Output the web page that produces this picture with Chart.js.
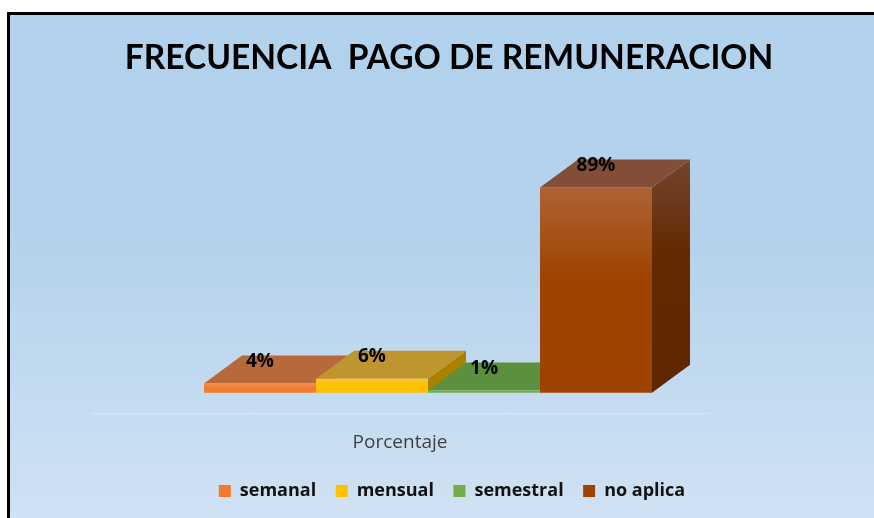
<!DOCTYPE html>
<html>
<head>
<meta charset="utf-8">
<script src="https://cdn.jsdelivr.net/npm/chart.js@4"></script>
<style>
    html, body { margin: 0; padding: 0; background: #fff; overflow: hidden; }
    #frame {
        position: absolute; left: 7px; top: 12px; width: 867px; height: 506px;
        box-sizing: border-box;
        border-left: 3px solid #000; border-top: 3px solid #000;
        background: linear-gradient(#b2d1ec 0%, #b4d2ec 45%, #d0e2f3 100%);
    }
    #chart { position: absolute; left: 0; top: 0; }
</style>
</head>
<body>
<div id="frame"></div>
<canvas id="chart" width="874" height="518"></canvas>
<script>
const categories = ["Porcentaje"];
const seriesNames = ["semanal", "mensual", "semestral", "no aplica"];
const seriesValues = [4, 6, 1, 89];
const frontColors = ["#f47b2e", "#ffc000", "#70ad47", "#9e4300"];
const topColors = ["#b8693c", "#bd962e", "#5c8f3e", "#834e38"];
const sideColors = ["#a85a24", "#a98300", "#4e7a32", "#622a02"];

const depthX = 38, depthY = 28;
const shiftX = 28, shiftY = -21;

function fillPoly(ctx, pts, color) {
    ctx.beginPath();
    pts.forEach((p, i) => i ? ctx.lineTo(p[0], p[1]) : ctx.moveTo(p[0], p[1]));
    ctx.closePath();
    ctx.fillStyle = color;
    ctx.fill();
}

// bars get a top and a side face, drawn left to right so the next one covers the last
const bars3d = {
    id: "bars3d",
    afterLayout(chart) {
        chart.titleBlock.left = 2; chart.titleBlock.right = 896;
        chart.legend.left = 30; chart.legend.right = 874;
    },
    beforeDatasetsDraw(chart) {
        const ctx = chart.ctx;
        ctx.save();
        ctx.translate(shiftX, shiftY);
        seriesValues.forEach((v, i) => {
            const el = chart.getDatasetMeta(i).data[0];
            const x0 = el.x - el.width / 2, x1 = el.x + el.width / 2;
            const y = el.y, b = el.base;

            const side = ctx.createLinearGradient(0, y - depthY, 0, b);
            side.addColorStop(0, i === 3 ? "#74452c" : sideColors[i]);
            side.addColorStop(0.4, sideColors[i]);
            side.addColorStop(1, i === 3 ? "#5e2700" : sideColors[i]);
            fillPoly(ctx, [[x1, y], [x1 + depthX, y - depthY], [x1 + depthX, b - depthY], [x1, b]], side);
            fillPoly(ctx, [[x0, y], [x1, y], [x1 + depthX, y - depthY], [x0 + depthX, y - depthY]], topColors[i]);

            el.draw(ctx);

            const shine = ctx.createLinearGradient(0, y, 0, b);
            shine.addColorStop(0, "rgba(240,225,255,0.2)");
            shine.addColorStop(0.45, "rgba(240,225,255,0)");
            ctx.fillStyle = shine;
            ctx.fillRect(x0, y, el.width, b - y);

            ctx.fillStyle = "#000";
            ctx.font = "bold 19px 'Open Sans'";
            ctx.textAlign = "center";
            ctx.textBaseline = "middle";
            ctx.fillText(v + "%", el.x, y - 22);
        });
        ctx.restore();
        return false;
    }
};

new Chart(document.getElementById("chart"), {
    type: "bar",
    data: {
        labels: categories,
        datasets: seriesNames.map((name, i) => ({
            label: name,
            data: [seriesValues[i]],
            backgroundColor: frontColors[i],
            barPercentage: 1,
            categoryPercentage: 0.7273
        }))
    },
    options: {
        responsive: false,
        animation: false,
        layout: { padding: { left: 92, right: 166, top: 0, bottom: 8 } },
        plugins: {
            title: {
                display: true,
                text: "FRECUENCIA  PAGO DE REMUNERACION",
                color: "#000",
                font: { family: "Lato", size: 33.5, weight: "bold" },
                padding: { top: 38, bottom: 105 }
            },
            legend: {
                position: "bottom",
                labels: {
                    color: "#111",
                    font: { family: "'Open Sans'", size: 18, weight: "bold" },
                    boxWidth: 12, boxHeight: 12, padding: 19.5
                }
            },
            tooltip: { enabled: false }
        },
        scales: {
            x: {
                grid: { display: false },
                border: { display: true, color: "#dbe7f2", width: 1 },
                ticks: { color: "#404040", padding: 9, font: { family: "'Open Sans'", size: 19 } }
            },
            y: { display: false, min: 0, max: 100 }
        }
    },
    plugins: [bars3d]
});
</script>
</body>
</html>
